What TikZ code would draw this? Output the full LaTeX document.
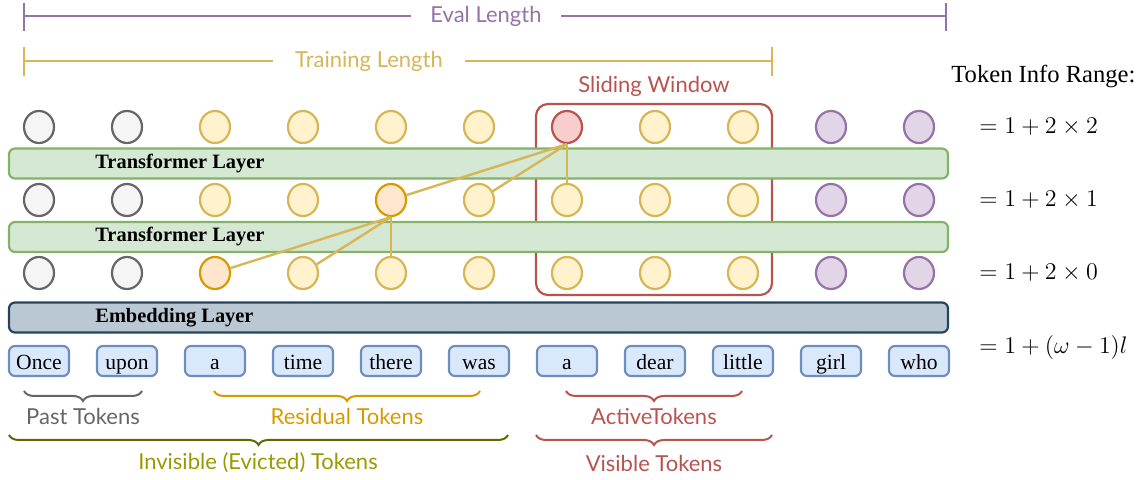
\documentclass[tikz,border=0pt]{standalone}
\usepackage{fontspec}
\setmainfont{Liberation Serif}
\newfontfamily\hand{Lato}
\usetikzlibrary{decorations.pathreplacing,shapes.geometric}
\definecolor{grayF}{HTML}{F5F5F5}\definecolor{grayD}{HTML}{666666}
\definecolor{yelF}{HTML}{FFF2CC}\definecolor{yelD}{HTML}{D6B656}
\definecolor{purF}{HTML}{E1D5E7}\definecolor{purD}{HTML}{9673A6}
\definecolor{redF}{HTML}{F8CECC}\definecolor{redD}{HTML}{B85450}
\definecolor{oraF}{HTML}{FFE6CC}\definecolor{oraD}{HTML}{D79B00}
\definecolor{grnF}{HTML}{D5E8D4}\definecolor{grnD}{HTML}{82B366}
\definecolor{bluF}{HTML}{DAE8FC}\definecolor{bluD}{HTML}{6C8EBF}
\definecolor{embF}{HTML}{BAC8D3}\definecolor{embD}{HTML}{23445D}
\definecolor{oliveD}{HTML}{666600}\definecolor{oliveT}{HTML}{999900}
\tikzset{
  cir/.style={ellipse, minimum width=15pt, minimum height=16pt, inner sep=0pt, line width=1.1pt},
  cgray/.style={cir, draw=grayD, fill=grayF},
  cyel/.style={cir, draw=yelD, fill=yelF},
  cpur/.style={cir, draw=purD, fill=purF},
  cred/.style={cir, draw=redD, fill=redF},
  cora/.style={cir, draw=oraD, fill=oraF},
  bar/.style={rectangle, rounded corners=3pt, minimum width=469.5pt, minimum height=15pt, line width=1.1pt, inner sep=0pt},
  tbar/.style={bar, draw=grnD, fill=grnF},
  ebar/.style={bar, draw=embD, fill=embF},
  barlabel/.style={anchor=west, font=\fontsize{10.2}{12}\selectfont\bfseries, inner sep=0pt, text height=6.8pt, text depth=2.2pt},
  tokbox/.style={rectangle, rounded corners=3pt, draw=bluD, fill=bluF, line width=1.1pt, minimum width=30pt, minimum height=15pt, inner sep=0pt, text height=9.5pt, text depth=0.9pt, font=\fontsize{10.8}{12}\selectfont},
  att/.style={draw=yelD, line width=1.2pt},
  lab/.style={font=\hand\fontsize{11}{13}\selectfont, inner sep=0pt},
  dim/.style={line width=1pt},
  brc/.style={decorate, decoration={brace, mirror, amplitude=5pt}, line width=1pt},
  fml/.style={anchor=west, inner sep=0pt, font=\fontsize{13}{15}\selectfont},
}
\begin{document}
\begin{tikzpicture}[x=0.5pt, y=-0.5pt]
\useasboundingbox (0,0) rectangle (1148,480);
% length indicators
\coordinate (ev1) at (24,16); \coordinate (ev2) at (946,16);
\draw[dim, purD] (ev1) -- (ev2);
\draw[dim, purD] (24,3) -- (24,31) (946,3) -- (946,31);
\node[lab, text=purD, fill=white, inner xsep=9.5pt, inner ysep=3pt] (evl) at (486,16) {Eval Length};
\coordinate (tr1) at (24,61); \coordinate (tr2) at (772,61);
\draw[dim, yelD] (tr1) -- (tr2);
\draw[dim, yelD] (24,47) -- (24,76) (772,47) -- (772,76);
\node[lab, text=yelD, fill=white, inner xsep=11pt, inner ysep=3pt] (trl) at (369,61) {Training Length};
% sliding window
\node[lab, text=redD] (swl) at (654,86) {Sliding Window};
\node[draw=redD, line width=1.1pt, rounded corners=6pt, minimum width=118pt, minimum height=95.5pt, inner sep=0pt] (sw) at (654,199.5) {};
% layers
\node[tbar] (tl1) at (478.5,163.5) {};
\node[barlabel] (tl1t) at (95,163.5) {Transformer Layer};
\node[tbar] (tl2) at (478.5,237) {};
\node[barlabel] (tl2t) at (95,237) {Transformer Layer};
\node[ebar] (emb) at (478.5,317.5) {};
\node[barlabel] (embt) at (95,317.5) {Embedding Layer};
% circles
\foreach \r/\y in {2/127, 1/200, 0/273}{
  \foreach \i in {0,...,10}{
    \pgfmathsetmacro{\xx}{39+88*\i}
    \ifnum\i<2 \def\st{cgray}\else\ifnum\i>8 \def\st{cpur}\else\def\st{cyel}\fi\fi
    \ifnum\r=2 \ifnum\i=6 \def\st{cred}\fi\fi
    \ifnum\r=1 \ifnum\i=4 \def\st{cora}\fi\fi
    \ifnum\r=0 \ifnum\i=2 \def\st{cora}\fi\fi
    \node[\st] (c\r\i) at (\xx,\y) {};
  }
}
% attention lines
\draw[att] (c26.south) -- (c14);
\draw[att] (c26.south) -- (c15);
\draw[att] (c26.south) -- (c16);
\draw[att] (c14.south) -- (c02);
\draw[att] (c14.south) -- (c03);
\draw[att] (c14.south) -- (c04);
% tokens
\foreach \w [count=\k from 0] in {Once,upon,a,time,there,was,a,dear,little,girl,who}{
  \pgfmathsetmacro{\xx}{39+88*\k}
  \node[tokbox] (t\k) at (\xx,361) {\w};
}
% braces
\coordinate (pb1) at (24,391); \coordinate (pb2) at (142,391);
\draw[brc, grayD] (pb1) -- (pb2);
\node[lab, text=grayD] (pbl) at (83,416) {Past Tokens};
\coordinate (rb1) at (214,391); \coordinate (rb2) at (480,391);
\draw[brc, oraD] (rb1) -- (rb2);
\node[lab, text=oraD] (rbl) at (347,416) {Residual Tokens};
\coordinate (ab1) at (566,391); \coordinate (ab2) at (742,391);
\draw[brc, redD] (ab1) -- (ab2);
\node[lab, text=redD] (abl) at (654,416) {ActiveTokens};
\coordinate (ib1) at (9,435); \coordinate (ib2) at (508,435);
\draw[brc, oliveD] (ib1) -- (ib2);
\node[lab, text=oliveT] (ibl) at (258,463) {Invisible (Evicted) Tokens};
\coordinate (vb1) at (536,435); \coordinate (vb2) at (772,435);
\draw[brc, redD] (vb1) -- (vb2);
\node[lab, text=redD] (vbl) at (654,463) {Visible Tokens};
% info range
\node[anchor=west, inner sep=0pt, font=\fontsize{12.3}{14}\selectfont] (tir) at (951,77) {Token Info Range:};
\node[fml] (f2) at (979,127) {$=1+2\times 2$};
\node[fml] (f1) at (979,200) {$=1+2\times 1$};
\node[fml] (f0) at (979,273) {$=1+2\times 0$};
\node[fml] (fl) at (979,348) {$=1+(\omega-1)l$};
\end{tikzpicture}
\end{document}
